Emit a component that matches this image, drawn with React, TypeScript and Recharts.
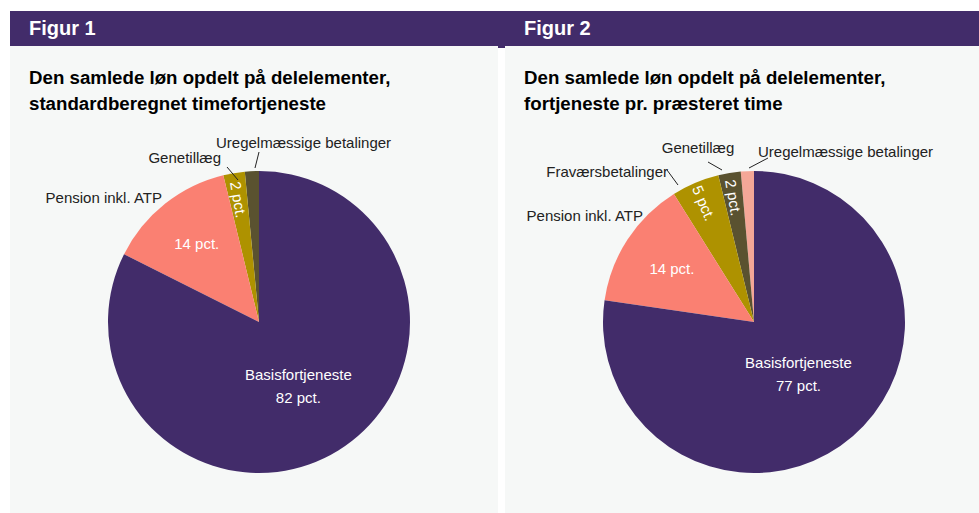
import React from 'react';
import { PieChart, Pie, Cell } from 'recharts';

// Figur 1 – standardberegnet timefortjeneste (pct.)
const fig1Names = ['Uregelmæssige betalinger', 'Genetillæg', 'Pension inkl. ATP', 'Basisfortjeneste'];
const fig1Values = [1.5, 2.3, 13.8, 82.4];

// Figur 2 – fortjeneste pr. præsteret time (pct.)
const fig2Names = ['Uregelmæssige betalinger', 'Genetillæg', 'Fraværsbetalinger', 'Pension inkl. ATP', 'Basisfortjeneste'];
const fig2Values = [1.4, 2.4, 5.1, 13.8, 77.3];

const PURPLE = '#422c6a';
const COLORS: Record<string, string> = {
  'Basisfortjeneste': PURPLE,
  'Pension inkl. ATP': '#fa8072',
  'Genetillæg': '#ae9200',
  'Uregelmæssige betalinger': '#5a5230',
  'Fraværsbetalinger': '#ae9200',
};
const COLORS2: Record<string, string> = {
  ...COLORS,
  'Genetillæg': '#5a5230',
  'Uregelmæssige betalinger': '#f4a797',
};

const FONT = '"Liberation Sans", Arial, sans-serif';
const RAD = Math.PI / 180;
const LABEL_SIZE = 15;

type LabelLayout = {
  inside?: { r: number; rotate?: boolean; twoLine?: boolean };
  outside?: { dx: number; dy: number; anchor: 'start' | 'middle' | 'end'; line?: number[] };
};

const layout1: Record<string, LabelLayout> = {
  'Uregelmæssige betalinger': { outside: { dx: -43, dy: -180, anchor: 'start', line: [-4, -154, 0, -170] } },
  'Genetillæg': { inside: { r: 124, rotate: true }, outside: { dx: -38, dy: -165, anchor: 'end', line: [-21, -142, -32, -155] } },
  'Pension inkl. ATP': { inside: { r: 100 }, outside: { dx: -97, dy: -125, anchor: 'end' } },
  'Basisfortjeneste': { inside: { r: 75, twoLine: true } },
};

const layout2: Record<string, LabelLayout> = {
  'Uregelmæssige betalinger': { outside: { dx: 4, dy: -171, anchor: 'start', line: [-5, -154, 14, -164] } },
  'Genetillæg': { inside: { r: 126, rotate: true }, outside: { dx: -56, dy: -175, anchor: 'middle', line: [-32, -152, -46, -160] } },
  'Fraværsbetalinger': { inside: { r: 129, rotate: true }, outside: { dx: -86, dy: -151, anchor: 'end', line: [-76, -137, -87, -152] } },
  'Pension inkl. ATP': { inside: { r: 98 }, outside: { dx: -111, dy: -107, anchor: 'end' } },
  'Basisfortjeneste': { inside: { r: 68, twoLine: true } },
};

const makeLabel = (lay: Record<string, LabelLayout>) => (props: any) => {
  const { cx, cy, midAngle, value } = props;
  const name = props.payload?.name ?? props.name;
  const cfg = lay[name];
  if (!cfg) return null;
  const pct = `${Math.round(value)} pct.`;
  const parts: React.ReactNode[] = [];
  if (cfg.inside) {
    const { r, rotate, twoLine } = cfg.inside;
    const x = cx + r * Math.cos(midAngle * RAD);
    const y = cy - r * Math.sin(midAngle * RAD);
    const rot = Math.atan2(Math.sin(midAngle * RAD), -Math.cos(midAngle * RAD)) / RAD;
    if (twoLine) {
      parts.push(
        <text key="in" x={x} y={y} fill="#fff" fontSize={LABEL_SIZE} fontFamily={FONT} textAnchor="middle">
          <tspan x={x} y={y - 11} dominantBaseline="central">{name}</tspan>
          <tspan x={x} y={y + 12} dominantBaseline="central">{pct}</tspan>
        </text>
      );
    } else {
      parts.push(
        <text key="in" x={x} y={y} fill="#fff" fontSize={LABEL_SIZE} fontFamily={FONT} textAnchor="middle"
          dominantBaseline="central" transform={rotate ? `rotate(${rot} ${x} ${y})` : undefined}>
          {pct}
        </text>
      );
    }
  }
  if (cfg.outside) {
    const { dx, dy, anchor, line } = cfg.outside;
    if (line) {
      parts.push(
        <line key="ln" x1={cx + line[0]} y1={cy + line[1]} x2={cx + line[2]} y2={cy + line[3]} stroke="#222" strokeWidth={1} />
      );
    }
    parts.push(
      <text key="out" x={cx + dx} y={cy + dy} fill="#222" fontSize={LABEL_SIZE} fontFamily={FONT} textAnchor={anchor} dominantBaseline="central">
        {name}
      </text>
    );
  }
  return <g>{parts}</g>;
};

const Panel = ({ left, width, title, sub1, sub2, names, values, colors, lay }: any) => {
  const data = names.map((n: string, i: number) => ({ name: n, value: values[i] }));
  return (
    <div style={{ position: 'absolute', left, top: 46, width, height: 467, background: '#f6f8f7' }}>
      <div style={{ position: 'absolute', left: 19, top: 19, fontFamily: FONT, fontWeight: 'bold', fontSize: 18.7, lineHeight: '26px', color: '#000', whiteSpace: 'nowrap' }}>
        {sub1}<br />{sub2}
      </div>
      <div style={{ position: 'absolute', left: 0, top: 0 }}>
        <PieChart width={width} height={467} margin={{ top: 0, right: 0, bottom: 0, left: 0 }} style={{ overflow: 'visible' }}>
          <Pie
            data={data}
            dataKey="value"
            nameKey="name"
            cx={249}
            cy={276}
            outerRadius={151}
            startAngle={90}
            endAngle={450}
            stroke="none"
            labelLine={false}
            label={makeLabel(lay)}
            isAnimationActive={false}
          >
            {data.map((d: any) => (
              <Cell key={d.name} fill={colors[d.name]} />
            ))}
          </Pie>
        </PieChart>
      </div>
      <div style={{ position: 'absolute', left: 19, top: -35, height: 35, lineHeight: '35px', fontFamily: FONT, fontWeight: 'bold', fontSize: 20, color: '#fff' }}>
        {title}
      </div>
    </div>
  );
};

export default function App() {
  return (
    <div style={{ position: 'absolute', left: 0, top: 0, width: 979, height: 513, background: '#fff', overflow: 'hidden' }}>
      <div style={{ position: 'absolute', left: 10, top: 11, width: 969, height: 35, background: PURPLE }} />
      <div style={{ position: 'absolute', left: 498, top: 46, width: 7, height: 2, background: PURPLE }} />
      <Panel left={10} width={488} title="Figur 1"
        sub1="Den samlede løn opdelt på delelementer," sub2="standardberegnet timefortjeneste"
        names={fig1Names} values={fig1Values} colors={COLORS} lay={layout1} />
      <Panel left={505} width={474} title="Figur 2"
        sub1="Den samlede løn opdelt på delelementer," sub2="fortjeneste pr. præsteret time"
        names={fig2Names} values={fig2Values} colors={COLORS2} lay={layout2} />
    </div>
  );
}
